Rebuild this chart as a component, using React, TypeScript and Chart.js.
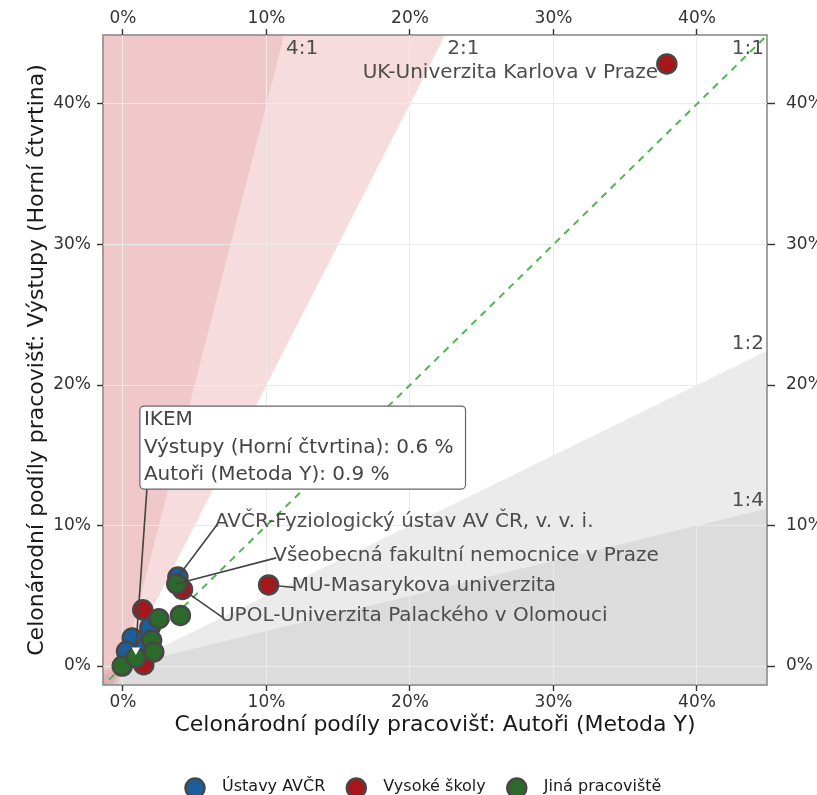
import React, { useEffect, useRef } from 'react';
import { Chart, registerables } from 'chart.js';

Chart.register(...registerables);

const FONT = '"DejaVu Sans", Verdana, sans-serif';

// Axis ranges and ticks (percent)
const X_MIN = -1.39;
const X_MAX = 44.88;
const Y_MIN = -1.35;
const Y_MAX = 44.91;
const X_TICKS = [0, 10, 20, 30, 40];
const Y_TICKS = [0, 10, 20, 30, 40];

const X_TITLE = 'Celonárodní podíly pracovišť: Autoři (Metoda Y)';
const Y_TITLE = 'Celonárodní podíly pracovišť: Výstupy (Horní čtvrtina)';

// Ratio guide lines (output share : author share)
const RATIOS = [4, 2, 1, 0.5, 0.25];
const RATIO_LABELS = ['4:1', '2:1', '1:1', '1:2', '1:4'];

// Series: Ústavy AVČR
const avcrX = [3.83, 1.88, 0.65, 0.25, 1.6];
const avcrY = [6.33, 2.75, 2.0, 1.05, 1.35];
const avcrNames = ['AVČR-Fyziologický ústav AV ČR, v. v. i.', '', '', '', ''];

// Series: Vysoké školy
const vsX = [37.9, 10.15, 4.15, 1.38, 1.45];
const vsY = [42.85, 5.77, 5.45, 4.0, 0.1];
const vsNames = ['UK-Univerzita Karlova v Praze', 'MU-Masarykova univerzita', 'UPOL-Univerzita Palackého v Olomouci', '', ''];

// Series: Jiná pracoviště
const jinX = [3.75, 4.0, 2.5, 2.0, -0.05, 0.9, 2.15];
const jinY = [5.85, 3.6, 3.37, 1.83, 0.0, 0.6, 1.0];
const jinNames = ['Všeobecná fakultní nemocnice v Praze', '', '', '', '', 'IKEM', ''];

const SERIES = [
  { name: 'Ústavy AVČR', color: '#1b5e9b', x: avcrX, y: avcrY, names: avcrNames, order: 3 },
  { name: 'Vysoké školy', color: '#a8161c', x: vsX, y: vsY, names: vsNames, order: 2 },
  { name: 'Jiná pracoviště', color: '#2b6a2b', x: jinX, y: jinY, names: jinNames, order: 1 },
];

// Label placement (text anchor in data units)
const LABEL_PLACEMENT: Record<string, { x: number; y: number; align: 'left' | 'right'; line: boolean }> = {
  'UK-Univerzita Karlova v Praze': { x: 37.28, y: 42.24, align: 'right', line: false },
  'AVČR-Fyziologický ústav AV ČR, v. v. i.': { x: 6.41, y: 10.28, align: 'left', line: true },
  'Všeobecná fakultní nemocnice v Praze': { x: 10.47, y: 7.84, align: 'left', line: true },
  'MU-Masarykova univerzita': { x: 11.76, y: 5.73, align: 'left', line: true },
  'UPOL-Univerzita Palackého v Olomouci': { x: 6.76, y: 3.59, align: 'left', line: true },
};

// Callout box (top-left in data units)
const CALLOUT = { name: 'IKEM', x: 1.18, y: 18.5 };

const PINK_2 = 'rgba(223,115,119,0.25)';
const PINK_4 = 'rgba(210,115,119,0.19)';
const GRAY = 'rgba(175,175,175,0.25)';
const POINT_BORDER = '#474747';
const LABEL_COLOR = '#4d4d4d';

function findPoint(name: string) {
  for (const s of SERIES) {
    const i = s.names.indexOf(name);
    if (i >= 0) return { x: s.x[i], y: s.y[i] };
  }
  return null;
}

const overlayPlugin = {
  id: 'overlayPlugin',
  beforeDraw(chart: any) {
    const { ctx, chartArea: a } = chart;
    ctx.save();
    ctx.strokeStyle = '#8c8c8c';
    ctx.lineWidth = 1.6;
    ctx.strokeRect(a.left, a.top, a.right - a.left, a.bottom - a.top);
    ctx.restore();
  },
  afterDatasetsDraw(chart: any) {
    const { ctx, chartArea: a } = chart;
    const xs = chart.scales.x;
    const ys = chart.scales.y;
    ctx.save();
    ctx.beginPath();
    ctx.rect(a.left, a.top, a.right - a.left, a.bottom - a.top);
    ctx.clip();

    // ratio labels
    ctx.font = `20px ${FONT}`;
    ctx.fillStyle = LABEL_COLOR;
    ctx.textBaseline = 'alphabetic';
    RATIOS.forEach((r, i) => {
      const label = RATIO_LABELS[i];
      const w = ctx.measureText(label).width;
      if (r >= 1) {
        const px = xs.getPixelForValue(Y_MAX / r);
        if (px + 2 + w > a.right - 3) {
          ctx.textAlign = 'right';
          ctx.fillText(label, a.right - 3, a.top + 19);
        } else {
          ctx.textAlign = 'left';
          ctx.fillText(label, px + 2, a.top + 19);
        }
      } else {
        const py = ys.getPixelForValue(X_MAX * r);
        ctx.textAlign = 'right';
        ctx.fillText(label, a.right - 3, py - 2);
      }
    });

    // connector lines
    ctx.strokeStyle = '#444';
    ctx.lineWidth = 1.6;
    Object.keys(LABEL_PLACEMENT).forEach((name) => {
      const p = findPoint(name);
      const l = LABEL_PLACEMENT[name];
      if (!p || !l.line) return;
      const px = xs.getPixelForValue(p.x);
      const py = ys.getPixelForValue(p.y);
      const tx = xs.getPixelForValue(l.x);
      const ty = ys.getPixelForValue(l.y);
      ctx.beginPath();
      ctx.moveTo(px, py);
      ctx.lineTo(tx + 3, ty + 2);
      ctx.stroke();
    });

    // text labels
    ctx.font = `20px ${FONT}`;
    ctx.fillStyle = LABEL_COLOR;
    ctx.textBaseline = 'middle';
    Object.keys(LABEL_PLACEMENT).forEach((name) => {
      const l = LABEL_PLACEMENT[name];
      ctx.textAlign = l.align;
      ctx.fillText(name, xs.getPixelForValue(l.x), ys.getPixelForValue(l.y));
    });

    // callout
    const cp = findPoint(CALLOUT.name);
    if (cp) {
      const lines = [
        CALLOUT.name,
        `Výstupy (Horní čtvrtina): ${cp.y.toFixed(1)} %`,
        `Autoři (Metoda Y): ${cp.x.toFixed(1)} %`,
      ];
      const bl = xs.getPixelForValue(CALLOUT.x);
      const bt = ys.getPixelForValue(CALLOUT.y);
      const maxW = Math.max(...lines.map((t) => ctx.measureText(t).width));
      const bw = maxW + 16;
      const bh = 83;
      const px = xs.getPixelForValue(cp.x);
      const py = ys.getPixelForValue(cp.y);
      ctx.beginPath();
      ctx.moveTo(bl + 7, bt + bh);
      ctx.lineTo(px, py - 10);
      ctx.strokeStyle = '#444';
      ctx.lineWidth = 1.6;
      ctx.stroke();
      ctx.beginPath();
      ctx.moveTo(px - 4.2, py - 10);
      ctx.lineTo(px + 4.2, py - 10);
      ctx.lineTo(px, py - 2.5);
      ctx.closePath();
      ctx.fillStyle = '#ffffff';
      ctx.fill();
      ctx.beginPath();
      if (ctx.roundRect) ctx.roundRect(bl, bt, bw, bh, 4);
      else ctx.rect(bl, bt, bw, bh);
      ctx.fillStyle = '#ffffff';
      ctx.fill();
      ctx.strokeStyle = '#666';
      ctx.lineWidth = 1.2;
      ctx.stroke();
      ctx.fillStyle = '#444';
      ctx.textAlign = 'left';
      ctx.textBaseline = 'middle';
      lines.forEach((t, i) => ctx.fillText(t, bl + 4, bt + 14 + i * 27.5));
    }
    ctx.restore();
  },
  afterDraw(chart: any) {
    const { ctx, chartArea: a } = chart;
    ctx.save();
    ctx.font = `22px ${FONT}`;
    ctx.fillStyle = '#1a1a1a';
    ctx.textAlign = 'center';
    ctx.textBaseline = 'middle';
    ctx.fillText(X_TITLE, (a.left + a.right) / 2, 717);
    ctx.save();
    ctx.translate(29, (a.top + a.bottom) / 2);
    ctx.rotate(-Math.PI / 2);
    ctx.fillText(Y_TITLE, 0, 0);
    ctx.restore();

    // legend
    ctx.font = `16px ${FONT}`;
    ctx.textAlign = 'left';
    ctx.textBaseline = 'middle';
    let cx = 187;
    const cy = 780;
    SERIES.forEach((s) => {
      ctx.beginPath();
      ctx.arc(cx, cy, 9.5, 0, Math.PI * 2);
      ctx.fillStyle = s.color;
      ctx.fill();
      ctx.strokeStyle = POINT_BORDER;
      ctx.lineWidth = 2.5;
      ctx.stroke();
      ctx.fillStyle = '#1a1a1a';
      const tx = cx + 27;
      ctx.fillText(s.name, tx, cy - 1);
      cx = tx + ctx.measureText(s.name).width + 31;
    });
    ctx.restore();
  },
};

function wedge(r: number, color: string) {
  return {
    type: 'line' as const,
    label: `wedge ${r}`,
    data: [
      { x: -100, y: -100 * r },
      { x: 100, y: 100 * r },
    ],
    borderWidth: 0,
    pointRadius: 0,
    backgroundColor: color,
    fill: r > 1 ? 'end' : 'start',
    order: 20,
  };
}

function tickAxis(position: string, size: number, padding: number, tickLength: number, onArea: boolean, values: number[], min: number, max: number) {
  const horizontal = position === 'top' || position === 'bottom';
  return {
    type: 'linear',
    position,
    display: true,
    min,
    max,
    afterBuildTicks: (s: any) => {
      s.ticks = values.map((v) => ({ value: v }));
    },
    afterFit: (s: any) => {
      if (horizontal) s.height = size;
      else s.width = size;
    },
    ticks: {
      callback: (v: any) => `${v}%`,
      font: { family: FONT, size: 17 },
      color: '#333',
      padding,
      maxRotation: 0,
      autoSkip: false,
    },
    grid: {
      display: true,
      drawOnChartArea: onArea,
      color: '#ebebeb',
      lineWidth: 1,
      drawTicks: true,
      tickLength,
      tickColor: '#333',
      tickWidth: 1.4,
    },
    border: { display: false },
  };
}

export default function App() {
  const ref = useRef<HTMLCanvasElement>(null);
  useEffect(() => {
    if (!ref.current) return;
    const datasets: any[] = [
      wedge(4, PINK_4),
      wedge(2, PINK_2),
      wedge(0.5, GRAY),
      wedge(0.25, GRAY),
      {
        type: 'line',
        label: '1:1',
        data: [
          { x: -100, y: -100 },
          { x: 100, y: 100 },
        ],
        borderColor: '#52b452',
        borderWidth: 2,
        borderDash: [7, 6],
        pointRadius: 0,
        fill: false,
        order: 10,
      },
      ...SERIES.map((s) => ({
        type: 'scatter',
        label: s.name,
        data: s.x.map((x, j) => ({ x, y: s.y[j] })),
        backgroundColor: s.color,
        borderColor: POINT_BORDER,
        borderWidth: 2.5,
        pointRadius: 9.5,
        pointHoverRadius: 9.5,
        order: s.order,
      })),
    ];
    const chart = new Chart(ref.current, {
      type: 'scatter',
      data: { datasets },
      options: {
        animation: false,
        responsive: false,
        devicePixelRatio: 1,
        events: [],
        layout: { padding: 0 },
        plugins: {
          legend: { display: false },
          tooltip: { enabled: false },
          filler: { drawTime: 'beforeDraw' },
        },
        scales: {
          x: tickAxis('bottom', 110, 1, 6, true, X_TICKS, X_MIN, X_MAX),
          x2: tickAxis('top', 27, 0, 6, false, X_TICKS, X_MIN, X_MAX),
          y: tickAxis('left', 95, 6, 6, true, Y_TICKS, Y_MIN, Y_MAX),
          y2: tickAxis('right', 71, 11, 8, false, Y_TICKS, Y_MIN, Y_MAX),
        },
      } as any,
      plugins: [overlayPlugin as any],
    } as any);
    return () => chart.destroy();
  }, []);
  return (
    <div style={{ position: 'fixed', left: 8, top: 8, width: 809, height: 787, overflow: 'hidden', background: '#fff' }}>
      <canvas ref={ref} width={830} height={787} style={{ display: 'block', width: 830, height: 787 }} />
    </div>
  );
}
